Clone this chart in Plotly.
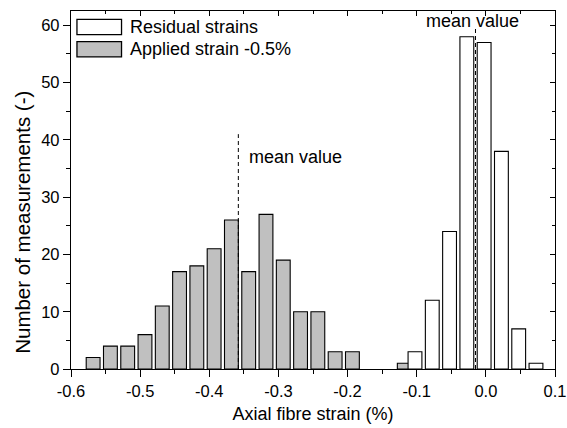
import plotly.graph_objects as go

# ---- data ----
applied_centers = [-0.568, -0.543, -0.518, -0.493, -0.468, -0.443, -0.418, -0.393,
                   -0.368, -0.343, -0.318, -0.293, -0.268, -0.243, -0.218, -0.193, -0.118]
applied_counts = [2, 4, 4, 6, 11, 17, 18, 21, 26, 17, 27, 19, 10, 10, 3, 3, 1]

residual_centers = [-0.1025, -0.0775, -0.0525, -0.0275, -0.0025, 0.0225, 0.0475, 0.0725]
residual_counts = [3, 12, 24, 58, 57, 38, 7, 1]

applied_mean = -0.358
applied_mean_top = 41
residual_mean = -0.015
residual_mean_top = 59.5

series_names = ["Residual strains", "Applied strain -0.5%"]
x_tick_vals = [-0.6, -0.5, -0.4, -0.3, -0.2, -0.1, 0.0, 0.1]
x_tick_labels = ["-0.6", "-0.5", "-0.4", "-0.3", "-0.2", "-0.1", "0.0", "0.1"]
y_tick_vals = [0, 10, 20, 30, 40, 50, 60]
x_title = "Axial fibre strain (%)"
y_title = "Number of measurements (-)"
mean_label = "mean value"

FONT = "Liberation Sans, Arial, sans-serif"
GRAY = "#c0c0c0"
XR = [-0.6, 0.1]
YR = [0, 62.5]
TXT = 18
TICK = 16.5

fig = go.Figure()
fig.add_trace(go.Bar(x=applied_centers, y=applied_counts, width=0.02,
                     marker=dict(color=GRAY, line=dict(color="black", width=1.1)),
                     showlegend=False, name=series_names[1]))
fig.add_trace(go.Bar(x=residual_centers, y=residual_counts, width=0.02,
                     marker=dict(color="white", line=dict(color="black", width=1.1)),
                     showlegend=False, name=series_names[0]))
fig.add_trace(go.Scatter(x=[applied_mean, applied_mean], y=[0, applied_mean_top], mode="lines",
                         line=dict(color="black", width=1, dash="4px,3px"), showlegend=False))
fig.add_trace(go.Scatter(x=[residual_mean, residual_mean], y=[0, residual_mean_top], mode="lines",
                         line=dict(color="black", width=1, dash="4px,3px"), showlegend=False))

axis_common = dict(showline=True, linecolor="black", linewidth=1.3, showgrid=False,
                   zeroline=False, tickcolor="black", tickwidth=1.2, automargin=False)

fig.update_layout(
    width=567, height=428,
    margin=dict(l=71, r=12, t=11, b=59),
    paper_bgcolor="white", plot_bgcolor="white",
    barmode="overlay",
    font=dict(family=FONT, size=TXT, color="black"),
    xaxis=dict(range=XR, tickvals=x_tick_vals, ticktext=x_tick_labels, ticks="outside",
               ticklen=7, ticklabeloverflow="allow", tickfont=dict(size=TICK),
               minor=dict(ticks="outside", ticklen=4, dtick=0.05, tick0=0,
                          tickcolor="black", tickwidth=1.2),
               title=dict(text=x_title, standoff=8, font=dict(size=TXT)), **axis_common),
    yaxis=dict(range=YR, tickvals=y_tick_vals, ticks="outside", ticklen=7,
               tickfont=dict(size=TICK),
               minor=dict(ticks="outside", ticklen=4, dtick=5, tick0=0,
                          tickcolor="black", tickwidth=1.2), **axis_common),
    xaxis2=dict(range=XR, overlaying="x", side="top", anchor="y", tickvals=x_tick_vals,
                showticklabels=False, ticks="inside", ticklen=5,
                minor=dict(ticks="inside", ticklen=3, dtick=0.05, tick0=0,
                           tickcolor="black", tickwidth=1.2), **axis_common),
    yaxis2=dict(range=YR, overlaying="y", side="right", anchor="x", tickvals=y_tick_vals,
                showticklabels=False, ticks="inside", ticklen=5,
                minor=dict(ticks="inside", ticklen=3, dtick=5, tick0=0,
                           tickcolor="black", tickwidth=1.2), **axis_common),
)
# invisible trace to activate the secondary (frame) axes
fig.add_trace(go.Scatter(x=[XR[0]], y=[YR[0]], xaxis="x2", yaxis="y2", mode="markers",
                         marker=dict(opacity=0), showlegend=False, hoverinfo="skip"))

# y-axis title as rotated text
fig.add_annotation(xref="paper", yref="paper", x=-0.100, y=0.41, text=y_title,
                   textangle=-90, showarrow=False, xanchor="center", yanchor="middle",
                   font=dict(size=20.5))

# mean value labels
fig.add_annotation(x=-0.346, y=37.0, text=mean_label, showarrow=False, xanchor="left",
                   yanchor="middle", font=dict(size=TXT))
fig.add_annotation(x=-0.090, y=60.7, text=mean_label, showarrow=False, xanchor="left",
                   yanchor="middle", font=dict(size=TXT))

# legend drawn manually (boxes + labels)
legend_fills = ["white", GRAY]
legend_y = [(0.9341, 0.9768), (0.8716, 0.9146)]
for name, fill, (y0, y1) in zip(series_names, legend_fills, legend_y):
    fig.add_shape(type="rect", xref="paper", yref="paper", x0=0.0123, x1=0.1044, y0=y0, y1=y1,
                  fillcolor=fill, line=dict(color="black", width=1.3))
    fig.add_annotation(xref="paper", yref="paper", x=0.1173, y=(y0 + y1) / 2, text=name,
                       showarrow=False, xanchor="left", yanchor="middle", font=dict(size=TXT))

fig.write_html("out.html")
